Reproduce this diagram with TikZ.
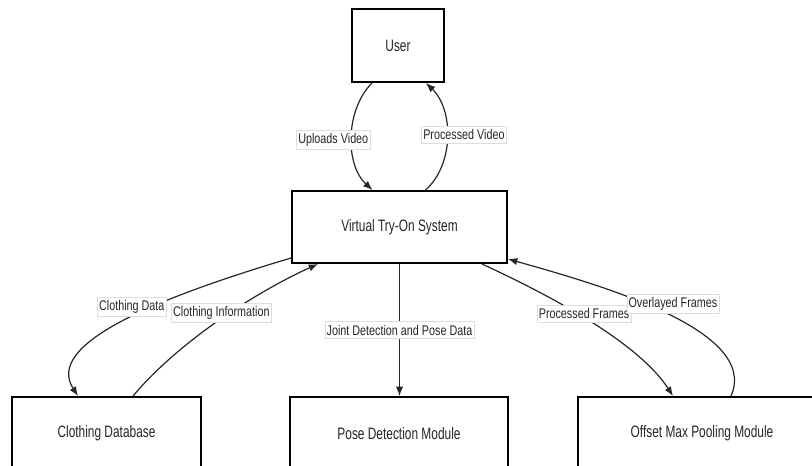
\documentclass[tikz,border=0pt]{standalone}
\usepackage{fontspec}
\setmainfont{Liberation Sans}[FakeStretch=0.72]
\newfontfamily\lblfont{Liberation Sans}[FakeStretch=0.77]
\usetikzlibrary{arrows.meta,calc}
\definecolor{ink}{HTML}{262626}
\definecolor{lblframe}{HTML}{DDDDDD}
\tikzset{
  box/.style={draw=black, line width=1.5pt, fill=white, text=ink, font=\fontsize{12.4}{14}\selectfont, inner sep=0pt},
  conn/.style={draw=ink, line width=0.9pt, -{Latex[length=7pt,width=5.5pt]}},
  lbl/.style={draw=lblframe, line width=0.4pt, fill=white, text=ink, font=\lblfont\fontsize{10.5}{12}\selectfont, inner xsep=1.2pt, inner ysep=2.4pt}
}
\begin{document}
\begin{tikzpicture}[x=0.75pt,y=-0.75pt]
\useasboundingbox (0,0) rectangle (812,465);
\node[box, minimum width=69pt, minimum height=54.75pt] (user) at (398,45.5) {User};
\node[box, minimum width=161.25pt, minimum height=54pt] (vts) at (399.5,227) {Virtual Try-On System};
\node[box, minimum width=141.75pt, minimum height=54.75pt] (cdb) at (106.5,433.5) {Clothing Database};
\node[box, minimum width=163.5pt, minimum height=54.75pt] (pose) at (399,433.5) {Pose Detection Module};
\node[box, minimum width=186pt, minimum height=54.75pt] (omp) at (702,433.5) {Offset Max Pooling Module};

\draw[conn] ($(user.south)+(-26,0)$) .. controls (345,110) and (345,165) .. node[lbl, pos=0.5, xshift=-13.9pt, yshift=-2pt] {Uploads Video} ($(vts.north)+(-27,0)$);
\draw[conn] ($(vts.north)+(26,0)$) .. controls (454,165) and (454,110) .. node[lbl, pos=0.5, xshift=12.75pt, yshift=2pt] {Processed Video} ($(user.south)+(28,0)$);

\draw[conn] ($(vts.west)+(0,31)$) .. controls (150,300) and (45,345) .. node[lbl, pos=0.45, yshift=7.5pt] {Clothing Data} ($(cdb.north)+(-28.5,0)$);
\draw[conn] ($(cdb.north)+(26.5,0)$) .. controls (180,340) and (260,290) .. node[lbl, pos=0.5, yshift=4.5pt] {Clothing Information} ($(vts.south)+(-81.5,0)$);

\draw[conn] (vts.south) -- node[lbl, pos=0.5] {Joint Detection and Pose Data} (vts.south |- pose.north);

\draw[conn] ($(vts.south)+(82.5,0)$) .. controls (560,300) and (640,345) .. node[lbl, pos=0.45, yshift=3pt] {Processed Frames} ($(omp.north)+(-29,0)$);
\draw[conn] ($(omp.north)+(29,0)$) .. controls (760,330) and (600,285) .. node[lbl, pos=0.5, xshift=6pt, yshift=6.5pt] {Overlayed Frames} ($(vts.east)+(0,32)$);
\end{tikzpicture}
\end{document}
